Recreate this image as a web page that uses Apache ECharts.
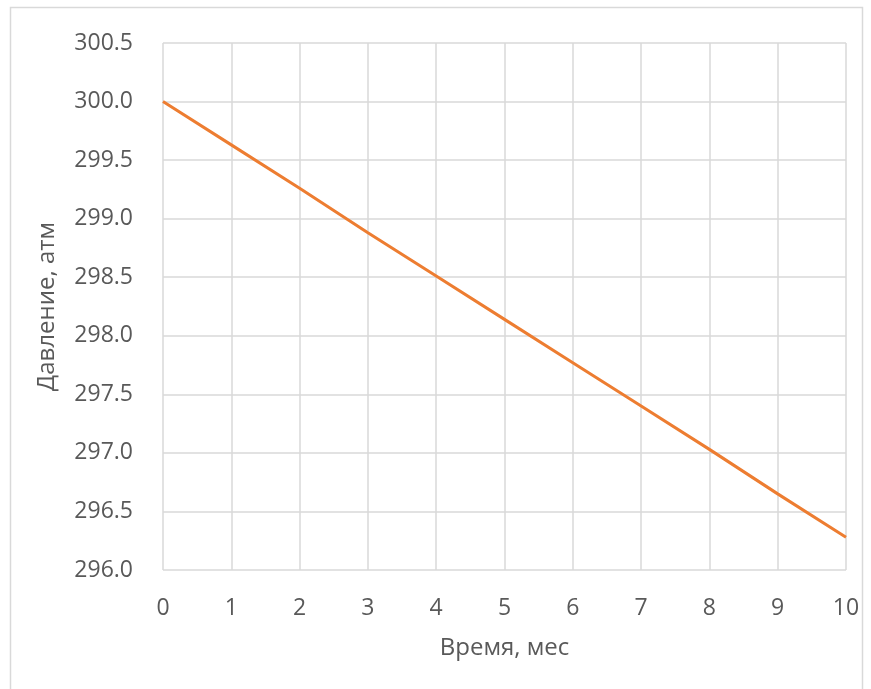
<!DOCTYPE html>
<html><head><meta charset="utf-8">
<script src="https://cdn.jsdelivr.net/npm/echarts@6/dist/echarts.min.js"></script>
<style>html,body{margin:0;padding:0;background:#fff}#c{width:871px;height:689px}</style>
</head><body><div id="c"></div>
<script>
const months = [0,1,2,3,4,5,6,7,8,9,10];
const pressure = [300.00,299.63,299.26,298.88,298.51,298.14,297.77,297.40,297.03,296.65,296.28];
const xTitle = 'Время, мес';
const yTitle = 'Давление, атм';
const font = 'Open Sans';
const chart = echarts.init(document.getElementById('c'), null, {renderer:'canvas'});
chart.setOption({
  animation:false,
  backgroundColor:'#fff',
  graphic:[{type:'rect',shape:{x:10.5,y:7.5,width:852,height:700},style:{fill:'none',stroke:'#d9d9d9',lineWidth:1.5},silent:true}],
  grid:{left:163,top:43,width:683,height:527,containLabel:false},
  xAxis:{type:'value',min:0,max:10,interval:1,
    name:xTitle,nameLocation:'middle',nameGap:66,
    nameTextStyle:{fontFamily:font,fontSize:24,color:'#595959'},
    axisLine:{show:false},axisTick:{show:false},
    axisLabel:{fontFamily:font,fontSize:23,color:'#595959',margin:27},
    splitLine:{show:true,lineStyle:{color:'#d9d9d9',width:1.5}}},
  yAxis:{type:'value',min:296,max:300.5,interval:0.5,
    name:yTitle,nameLocation:'middle',nameGap:104,
    nameTextStyle:{fontFamily:font,fontSize:24,color:'#595959'},
    axisLine:{show:false},axisTick:{show:false},
    axisLabel:{fontFamily:font,fontSize:23,color:'#595959',margin:30,formatter:v=>v.toFixed(1)},
    splitLine:{show:true,lineStyle:{color:'#d9d9d9',width:1.5}}},
  series:[{type:'line',data:months.map((m,i)=>[m,pressure[i]]),showSymbol:false,
    lineStyle:{color:'#ed7d31',width:3},itemStyle:{color:'#ed7d31'}}]
});
</script></body></html>
